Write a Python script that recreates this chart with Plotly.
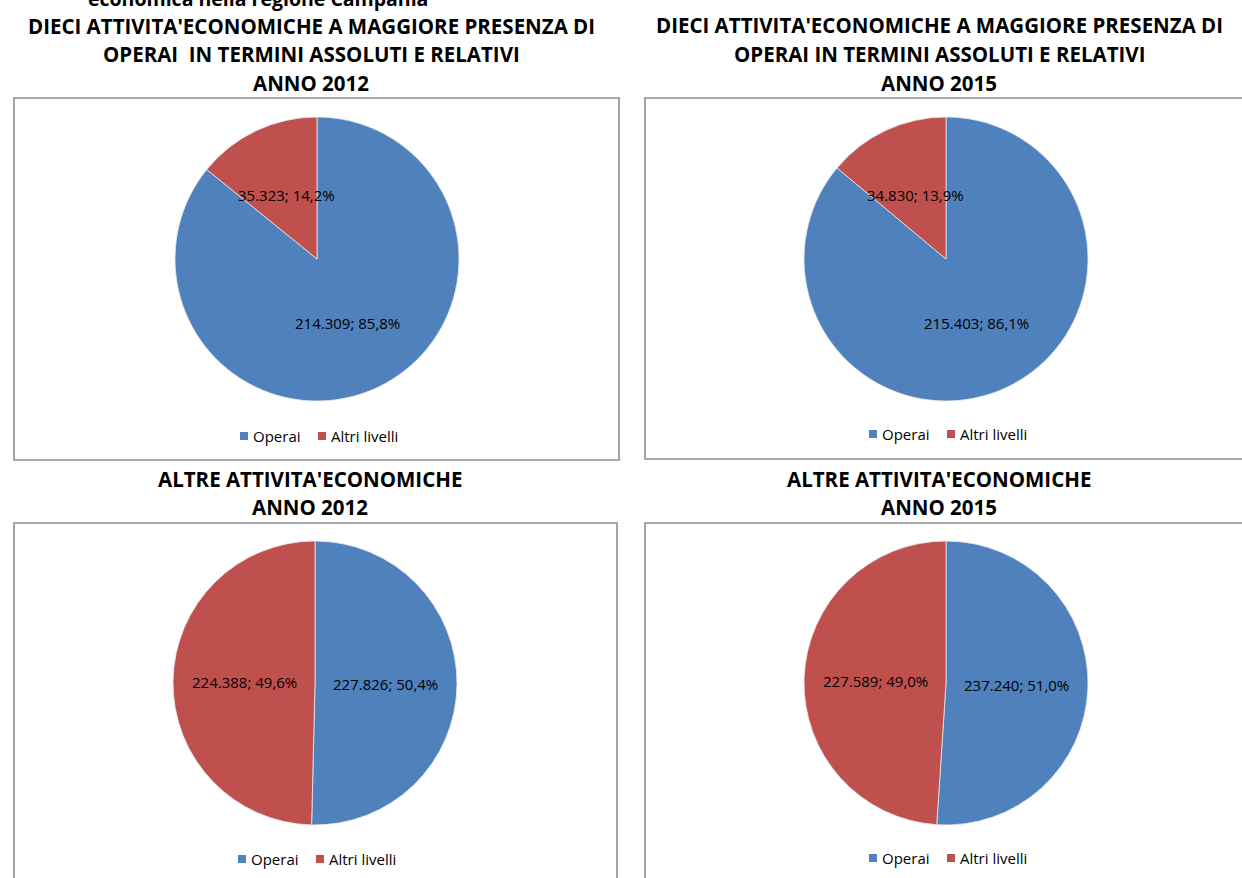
import math
import plotly.graph_objects as go

# Data: occupati per livello, Campania
categories = ["Operai", "Altri livelli"]
dieci_2012 = [214309, 35323]
dieci_2015 = [215403, 34830]
altre_2012 = [227826, 224388]
altre_2015 = [237240, 227589]

title_lines = [
    ["DIECI ATTIVITA'ECONOMICHE A MAGGIORE PRESENZA DI", "OPERAI  IN TERMINI ASSOLUTI E RELATIVI", "ANNO 2012"],
    ["DIECI ATTIVITA'ECONOMICHE A MAGGIORE PRESENZA DI", "OPERAI IN TERMINI ASSOLUTI E RELATIVI", "ANNO 2015"],
    ["ALTRE ATTIVITA'ECONOMICHE", "ANNO 2012"],
    ["ALTRE ATTIVITA'ECONOMICHE", "ANNO 2015"],
]
colors = ["#4F81BD", "#C0504D"]

W, H = 1242, 878
FONT = "Open Sans"
TITLE_SIZE = 20.5
TEXT_SIZE = 15

# layout of each panel in pixels: pie centre, radius, frame, title lines, legend row
panels = [
    dict(values=dieci_2012, cx=317, cy=259, r=142, box=(14, 98, 619, 460), tx=311, ty=[26, 54, 83], ly=436),
    dict(values=dieci_2015, cx=946, cy=259, r=142, box=(645, 98, 1250, 459), tx=939, ty=[25, 54, 83], ly=434),
    dict(values=altre_2012, cx=315, cy=683, r=142, box=(14, 523, 617, 890), tx=310, ty=[479, 507], ly=859),
    dict(values=altre_2015, cx=946, cy=683, r=142, box=(645, 523, 1250, 890), tx=939, ty=[479, 507], ly=858),
]


def px_x(x):
    return x / W


def px_y(y):
    return 1 - y / H


def it_int(v):
    return f"{v:,}".replace(",", ".")


def it_pct(p):
    return f"{p:.1f}".replace(".", ",") + "%"


fig = go.Figure()
annotations = []
shapes = []

for i, p in enumerate(panels):
    cx, cy, r = p["cx"], p["cy"], p["r"]
    fig.add_trace(go.Pie(
        labels=categories,
        values=p["values"],
        sort=False,
        direction="clockwise",
        rotation=0,
        marker=dict(colors=colors, line=dict(color="#E8E8E8", width=0.8)),
        textinfo="none",
        hoverinfo="label+value+percent",
        domain=dict(x=[px_x(cx - r), px_x(cx + r)], y=[px_y(cy + r), px_y(cy - r)]),
        showlegend=False,
    ))

    # data labels at half radius along each slice's mid angle
    total = sum(p["values"])
    start = 0.0
    for v in p["values"]:
        frac = v / total
        mid = (start + frac / 2) * 2 * math.pi
        start += frac
        lx = cx + 0.5 * r * math.sin(mid)
        ly = cy - 0.5 * r * math.cos(mid)
        annotations.append(dict(
            x=px_x(lx), y=px_y(ly), xref="paper", yref="paper",
            text=f"{it_int(v)}; {it_pct(100 * frac)}",
            showarrow=False, xanchor="center", yanchor="middle",
            font=dict(family=FONT, size=TEXT_SIZE, color="#000000"),
        ))

    # panel title, one annotation per line
    for line, ty in zip(title_lines[i], p["ty"]):
        annotations.append(dict(
            x=px_x(p["tx"]), y=px_y(ty), xref="paper", yref="paper",
            text=line, showarrow=False, xanchor="center", yanchor="middle",
            font=dict(family=FONT, size=TITLE_SIZE, color="#000000", weight="bold"),
        ))

    # chart frame
    x0, y0, x1, y1 = p["box"]
    shapes.append(dict(
        type="rect", xref="paper", yref="paper",
        x0=px_x(x0), x1=px_x(x1), y0=px_y(y1), y1=px_y(y0),
        line=dict(color="#8E8E8E", width=1.6), fillcolor="rgba(0,0,0,0)",
        layer="below",
    ))

    # legend row: colour key + category name
    key_x = [cx - 77, cx + 1]
    for name, col, kx in zip(categories, colors, key_x):
        shapes.append(dict(
            type="rect", xref="paper", yref="paper",
            x0=px_x(kx), x1=px_x(kx + 8), y0=px_y(p["ly"] + 4), y1=px_y(p["ly"] - 4),
            line=dict(width=0), fillcolor=col,
        ))
        annotations.append(dict(
            x=px_x(kx + 11), y=px_y(p["ly"]), xref="paper", yref="paper",
            text=name, showarrow=False, xanchor="left", yanchor="middle",
            font=dict(family=FONT, size=TEXT_SIZE, color="#000000"),
        ))

# heading line partly above the page edge
annotations.append(dict(
    x=px_x(258), y=1, xref="paper", yref="paper",
    text="economica nella regione Campania", showarrow=False,
    xanchor="center", yanchor="middle", yshift=2,
    font=dict(family=FONT, size=19.5, color="#000000", weight="bold"),
))

fig.update_layout(
    width=W, height=H,
    margin=dict(l=0, r=0, t=0, b=0),
    paper_bgcolor="white",
    plot_bgcolor="white",
    annotations=annotations,
    shapes=shapes,
)

fig.write_html("out.html", config=dict(displayModeBar=False))
